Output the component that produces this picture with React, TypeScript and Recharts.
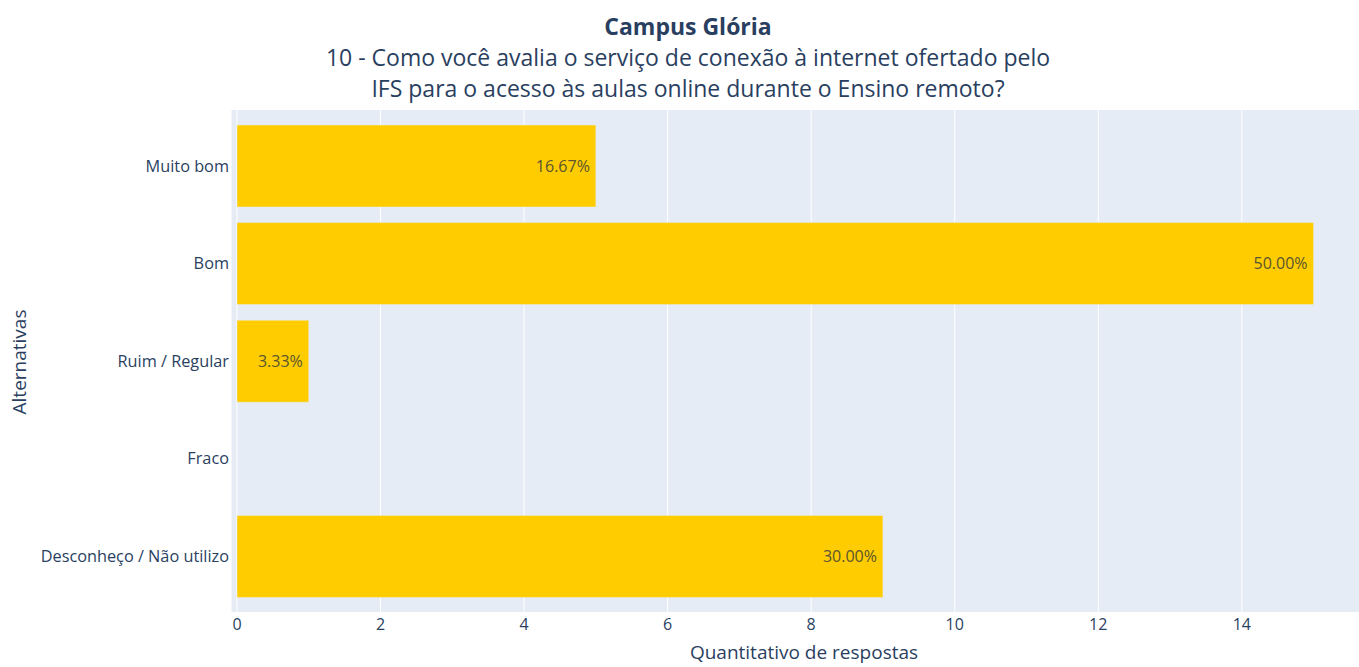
import { Bar, BarChart, CartesianGrid, LabelList, XAxis, YAxis } from "recharts";

const categories = [
  "Muito bom",
  "Bom",
  "Ruim / Regular",
  "Fraco",
  "Desconheço / Não utilizo",
];
const counts = [5, 15, 1, 0, 9];
const xTicks = [0, 2, 4, 6, 8, 10, 12, 14];

const total = counts.reduce((a, b) => a + b, 0);
const data = categories.map((name, i) => ({
  name,
  count: counts[i],
  pct: counts[i] > 0 ? ((counts[i] / total) * 100).toFixed(2) + "%" : "",
}));

const FONT = '"Open Sans", sans-serif';
const INK = "#2a3f5f";

export default function App() {
  return (
    <div
      style={{
        position: "absolute",
        left: 0,
        top: 0,
        width: 1359,
        height: 667,
        overflow: "hidden",
        background: "#fff",
        fontFamily: FONT,
        color: INK,
      }}
    >
      <div style={{ position: "absolute", left: 0, width: 1376, top: 11, textAlign: "center", lineHeight: "31px" }}>
        <div style={{ fontSize: 23, fontWeight: 700 }}>Campus Glória</div>
        <div style={{ fontSize: 23 }}>
          10 - Como você avalia o serviço de conexão à internet ofertado pelo
        </div>
        <div style={{ fontSize: 23 }}>
          IFS para o acesso às aulas online durante o Ensino remoto?
        </div>
      </div>

      <div
        style={{
          position: "absolute",
          left: 19,
          top: 362,
          transform: "translate(-50%, -50%) rotate(-90deg)",
          fontSize: 19,
          whiteSpace: "nowrap",
        }}
      >
        Alternativas
      </div>
      <div
        style={{
          position: "absolute",
          left: 804,
          top: 652,
          transform: "translate(-50%, -50%)",
          fontSize: 19,
          lineHeight: "22px",
          whiteSpace: "nowrap",
        }}
      >
        Quantitativo de respostas
      </div>

      <div style={{ position: "absolute", left: 0, top: 0 }}>
        <BarChart
          width={1371}
          height={667}
          data={data}
          layout="vertical"
          margin={{ top: 110, right: 0, left: 0, bottom: 0 }}
          barCategoryGap={8}
        >
          <CartesianGrid horizontal={false} stroke="#ffffff" strokeWidth={1} fill="#E5ECF6" fillOpacity={1} />
          <XAxis
            type="number"
            domain={[0, 15.8]}
            ticks={xTicks}
            allowDataOverflow
            padding={{ left: 6, right: 0 }}
            axisLine={false}
            tickLine={false}
            tickSize={0}
            tickMargin={7}
            height={55}
            tick={{ fontSize: 16, fill: INK, fontFamily: FONT }}
          />
          <YAxis
            type="category"
            dataKey="name"
            width={231}
            padding={{ top: 7, bottom: 7 }}
            axisLine={false}
            tickLine={false}
            tickSize={0}
            tickMargin={2}
            interval={0}
            tick={{ fontSize: 16.3, fill: INK, fontFamily: FONT }}
          />
          <Bar
            dataKey="count"
            fill="#FFCC00"
            stroke="#E5ECF6"
            strokeWidth={0.5}
            isAnimationActive={false}
          >
            <LabelList
              dataKey="pct"
              position="insideRight"
              offset={6}
              fill="#5a5530"
              fontSize={16}
              fontFamily={FONT}
            />
          </Bar>
        </BarChart>
      </div>
    </div>
  );
}
